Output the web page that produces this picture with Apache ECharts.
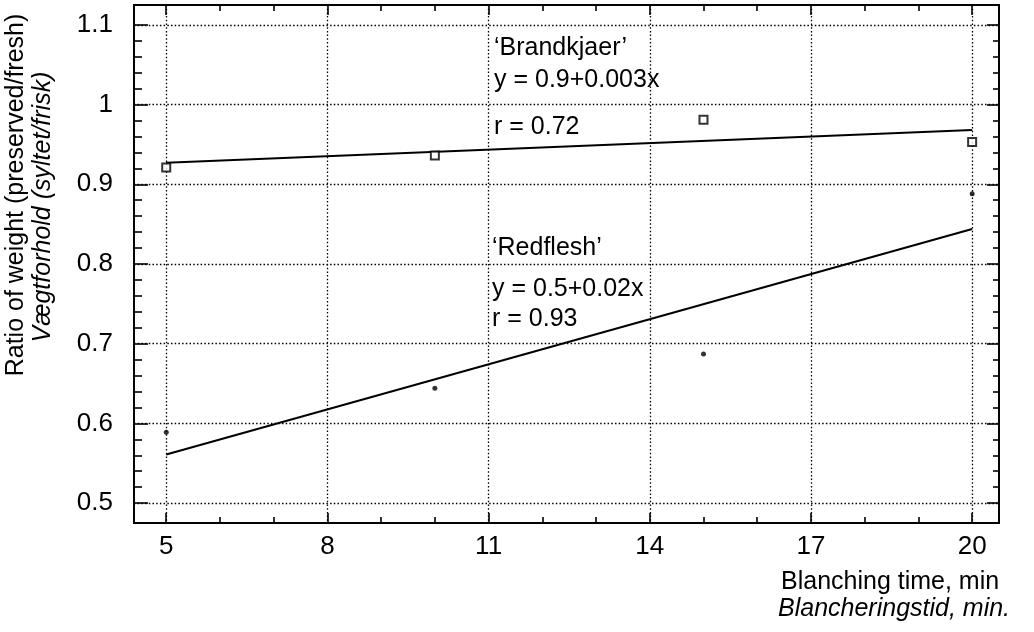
<!DOCTYPE html>
<html>
<head>
<meta charset="utf-8">
<script src="https://cdn.jsdelivr.net/npm/echarts@6/dist/echarts.min.js"></script>
<style>
html,body{margin:0;padding:0;background:#fff;}
#chart{width:1034px;height:632px;}
</style>
</head>
<body>
<div id="chart"></div>
<script>
// ---- data ----
var xMajorTicks = [5, 8, 11, 14, 17, 20];
var xMinorTicks = [6, 7, 9, 10, 12, 13, 15, 16, 18, 19];
var yMajorTicks = [0.5, 0.6, 0.7, 0.8, 0.9, 1.0, 1.1];
var yMinorTicks = [0.52, 0.54, 0.56, 0.58, 0.62, 0.64, 0.66, 0.68, 0.72, 0.74, 0.76, 0.78,
                   0.82, 0.84, 0.86, 0.88, 0.92, 0.94, 0.96, 0.98, 1.02, 1.04, 1.06, 1.08];
var blanchTimes = [5, 10, 15, 20];
var brandkjaerValues = [0.921, 0.936, 0.981, 0.953];
var redfleshValues = [0.589, 0.644, 0.687, 0.888];
var brandkjaerFitX = [5, 20];
var brandkjaerFitY = [0.927, 0.968];
var redfleshFitX = [5, 20];
var redfleshFitY = [0.561, 0.844];

var FONT = "'Liberation Sans', Arial, Helvetica, sans-serif";

function pairs(xs, ys) { return xs.map(function (x, i) { return [x, ys[i]]; }); }

var gridLine = { show: true, lineStyle: { color: '#000', width: 1.3, type: [1.5, 2.2] } };
var boxLine = { show: true, onZero: false, lineStyle: { color: '#000', width: 2 } };

function xAx(pos, ticks, len, labels, split) {
  return {
    type: 'value', min: 4.4, max: 20.5, position: pos,
    axisLine: boxLine,
    axisTick: { show: true, inside: true, length: len, customValues: ticks, lineStyle: { color: '#000', width: 1.6 } },
    axisLabel: labels ? { show: true, customValues: ticks, fontSize: 26, color: '#000', fontFamily: FONT, margin: 11 } : { show: false },
    splitLine: split ? gridLine : { show: false }
  };
}
function yAx(pos, ticks, len, labels, split) {
  return {
    type: 'value', min: 0.475, max: 1.125, position: pos,
    axisLine: boxLine,
    axisTick: { show: true, inside: true, length: len, customValues: ticks, lineStyle: { color: '#000', width: 1.6 } },
    axisLabel: labels ? { show: true, customValues: ticks, fontSize: 26, color: '#000', fontFamily: FONT, margin: 21 } : { show: false },
    splitLine: split ? gridLine : { show: false }
  };
}

var chart = echarts.init(document.getElementById('chart'), null, { renderer: 'canvas' });
chart.setOption({
  backgroundColor: '#fff',
  animation: false,
  grid: { left: 134, right: 35, top: 5, bottom: 109, containLabel: false },
  xAxis: [
    xAx('bottom', xMajorTicks, 10, true, true),
    xAx('bottom', xMinorTicks, 6, false, false),
    xAx('top', xMajorTicks, 10, false, false),
    xAx('top', xMinorTicks, 6, false, false)
  ],
  yAxis: [
    yAx('left', yMajorTicks, 14, true, true),
    yAx('left', yMinorTicks, 8, false, false),
    yAx('right', yMajorTicks, 12, false, false),
    yAx('right', yMinorTicks, 6, false, false)
  ],
  series: [
    {
      name: 'Brandkjaer fit', type: 'line', data: pairs(brandkjaerFitX, brandkjaerFitY),
      showSymbol: false, lineStyle: { color: '#000', width: 2 }, z: 3
    },
    {
      name: 'Redflesh fit', type: 'line', data: pairs(redfleshFitX, redfleshFitY),
      showSymbol: false, lineStyle: { color: '#000', width: 2 }, z: 3
    },
    {
      name: 'Brandkjaer', type: 'scatter', data: pairs(blanchTimes, brandkjaerValues),
      symbol: 'rect', symbolSize: 8,
      itemStyle: { color: '#fff', borderColor: '#000', borderWidth: 2 }, z: 4
    },
    {
      name: 'Redflesh', type: 'scatter', data: pairs(blanchTimes, redfleshValues),
      symbol: 'circle', symbolSize: 5,
      itemStyle: { color: '#000' }, z: 4
    }
  ],
  graphic: [
    { type: 'text', x: 494, y: 48, style: { text: '\u2018Brandkjaer\u2019', font: '25px ' + FONT, fill: '#000', textVerticalAlign: 'middle' } },
    { type: 'text', x: 494, y: 80, style: { text: 'y = 0.9+0.003x', font: '25px ' + FONT, fill: '#000', textVerticalAlign: 'middle' } },
    { type: 'text', x: 494, y: 127, style: { text: 'r = 0.72', font: '25px ' + FONT, fill: '#000', textVerticalAlign: 'middle' } },
    { type: 'text', x: 492, y: 248, style: { text: '\u2018Redflesh\u2019', font: '25px ' + FONT, fill: '#000', textVerticalAlign: 'middle' } },
    { type: 'text', x: 492, y: 289, style: { text: 'y = 0.5+0.02x', font: '25px ' + FONT, fill: '#000', textVerticalAlign: 'middle' } },
    { type: 'text', x: 492, y: 319, style: { text: 'r = 0.93', font: '25px ' + FONT, fill: '#000', textVerticalAlign: 'middle' } },
    { type: 'text', x: 781, y: 582, style: { text: 'Blanching time, min', font: '25px ' + FONT, fill: '#000', textVerticalAlign: 'middle' } },
    { type: 'text', x: 778, y: 609, style: { text: 'Blancheringstid, min.', font: 'italic 25px ' + FONT, fill: '#000', textVerticalAlign: 'middle' } },
    { type: 'text', x: 16, y: 195, rotation: Math.PI / 2, style: { text: 'Ratio of weight (preserved/fresh)', font: '25px ' + FONT, fill: '#000', textAlign: 'center', textVerticalAlign: 'middle' } },
    { type: 'text', x: 43, y: 207, rotation: Math.PI / 2, style: { text: 'V\u00e6gtforhold (syltet/frisk)', font: 'italic 25px ' + FONT, fill: '#000', textAlign: 'center', textVerticalAlign: 'middle' } }
  ]
});
</script>
</body>
</html>
